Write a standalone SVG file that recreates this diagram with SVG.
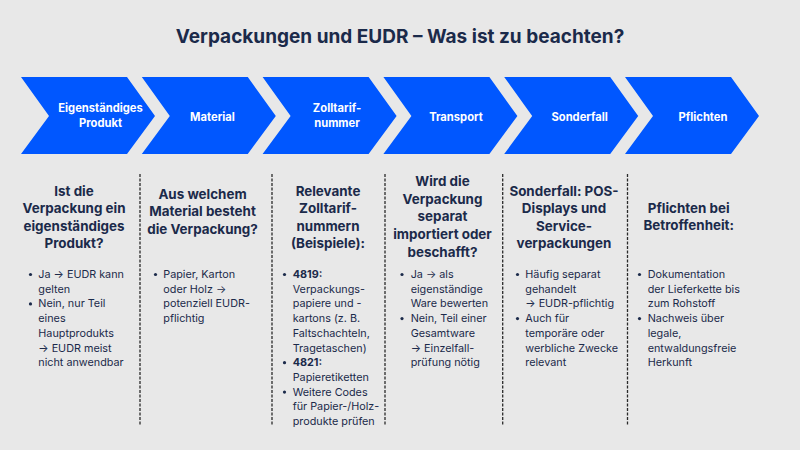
<svg xmlns="http://www.w3.org/2000/svg" width="800" height="450" viewBox="0 0 800 450">
<style>
.bg{fill:#e8e8e8}
.chev{fill:#0057ff}
.cl{font-family:Inter,"Noto Sans",sans-serif;font-weight:700;font-size:11.2px;fill:#ffffff;text-anchor:middle}
.title{font-family:Inter,"Noto Sans",sans-serif;font-weight:700;font-size:19px;fill:#1b2a4a;text-anchor:middle}
.hd{font-family:Inter,"Noto Sans",sans-serif;font-weight:700;font-size:13.4px;fill:#1b2a4a;text-anchor:middle}
.bt{font-family:Inter,"Noto Sans",sans-serif;font-size:10.8px;fill:#1b2a4a}
.bt .b{font-weight:700}
.dot{fill:#1b2a4a}
.div{stroke:#2a2a2a;stroke-width:1.3;stroke-dasharray:3 1.5;fill:none}
</style>
<defs>
<polygon id="chv" points="0,0 106,0 134,39 106,77 0,77 28,39"/>
</defs>
<rect class="bg" x="0" y="0" width="800" height="450"/>
<text class="title" x="400" y="43">Verpackungen und EUDR – Was ist zu beachten?</text>

<g id="step1"><use href="#chv" class="chev" x="21" y="77"/><text class="cl" x="100.5" y="112">Eigenständiges</text><text class="cl" x="100.5" y="127">Produkt</text></g>
<g id="step2"><use href="#chv" class="chev" x="141.8" y="77"/><text class="cl" x="212.5" y="120.5">Material</text></g>
<g id="step3"><use href="#chv" class="chev" x="262.6" y="77"/><text class="cl" x="337" y="112">Zolltarif-</text><text class="cl" x="337" y="127">nummer</text></g>
<g id="step4"><use href="#chv" class="chev" x="383.4" y="77"/><text class="cl" x="456" y="120.5">Transport</text></g>
<g id="step5"><use href="#chv" class="chev" x="504.2" y="77"/><text class="cl" x="579.7" y="120.5">Sonderfall</text></g>
<g id="step6"><use href="#chv" class="chev" x="625" y="77"/><text class="cl" x="703" y="120.5">Pflichten</text></g>

<g id="dividers">
<line class="div" x1="140" y1="174" x2="140" y2="425"/>
<line class="div" x1="272" y1="174" x2="272" y2="425"/>
<line class="div" x1="385" y1="174" x2="385" y2="425"/>
<line class="div" x1="502.7" y1="174" x2="502.7" y2="425"/>
<line class="div" x1="627.5" y1="174" x2="627.5" y2="425"/>
</g>

<g id="col1">
<text class="hd" x="74" y="195.5">Ist die</text>
<text class="hd" x="74" y="213">Verpackung ein</text>
<text class="hd" x="74" y="230.5">eigenständiges</text>
<text class="hd" x="74" y="248">Produkt?</text>
<circle class="dot" cx="30.5" cy="274.5" r="1.6"/>
<circle class="dot" cx="30.5" cy="303.9" r="1.6"/>
<text class="bt" x="38.3" y="278">Ja → EUDR kann</text>
<text class="bt" x="38.3" y="292.7">gelten</text>
<text class="bt" x="38.3" y="307.4">Nein, nur Teil</text>
<text class="bt" x="38.3" y="322.1">eines</text>
<text class="bt" x="38.3" y="336.8">Hauptprodukts</text>
<text class="bt" x="38.3" y="351.5">→ EUDR meist</text>
<text class="bt" x="38.3" y="366.2">nicht anwendbar</text>
</g>

<g id="col2">
<text class="hd" x="202.5" y="198.5">Aus welchem</text>
<text class="hd" x="202.5" y="216.3">Material besteht</text>
<text class="hd" x="202.5" y="234">die Verpackung?</text>
<circle class="dot" cx="155.5" cy="274.5" r="1.6"/>
<text class="bt" x="163.3" y="278">Papier, Karton</text>
<text class="bt" x="163.3" y="292.7">oder Holz →</text>
<text class="bt" x="163.3" y="307.4">potenziell EUDR-</text>
<text class="bt" x="163.3" y="322.1">pflichtig</text>
</g>

<g id="col3">
<text class="hd" x="328" y="195.5">Relevante</text>
<text class="hd" x="328" y="213">Zolltarif-</text>
<text class="hd" x="328" y="230.5">nummern</text>
<text class="hd" x="328" y="248">(Beispiele):</text>
<circle class="dot" cx="284.5" cy="274.5" r="1.6"/>
<circle class="dot" cx="284.5" cy="362.7" r="1.6"/>
<circle class="dot" cx="284.5" cy="392.1" r="1.6"/>
<text class="bt" x="292.7" y="278"><tspan class="b">4819:</tspan></text>
<text class="bt" x="292.7" y="292.7">Verpackungs-</text>
<text class="bt" x="292.7" y="307.4">papiere und -</text>
<text class="bt" x="292.7" y="322.1">kartons (z. B.</text>
<text class="bt" x="292.7" y="336.8">Faltschachteln,</text>
<text class="bt" x="292.7" y="351.5">Tragetaschen)</text>
<text class="bt" x="292.7" y="366.2"><tspan class="b">4821:</tspan></text>
<text class="bt" x="292.7" y="380.9">Papieretiketten</text>
<text class="bt" x="292.7" y="395.6">Weitere Codes</text>
<text class="bt" x="292.7" y="410.3">für Papier-/Holz-</text>
<text class="bt" x="292.7" y="425">produkte prüfen</text>
</g>

<g id="col4">
<text class="hd" x="442.5" y="186">Wird die</text>
<text class="hd" x="442.5" y="203.7">Verpackung</text>
<text class="hd" x="442.5" y="221.4">separat</text>
<text class="hd" x="442.5" y="239.1">importiert oder</text>
<text class="hd" x="442.5" y="256.8">beschafft?</text>
<circle class="dot" cx="402" cy="274.5" r="1.6"/>
<circle class="dot" cx="402" cy="318.6" r="1.6"/>
<text class="bt" x="410.7" y="278">Ja → als</text>
<text class="bt" x="410.7" y="292.7">eigenständige</text>
<text class="bt" x="410.7" y="307.4">Ware bewerten</text>
<text class="bt" x="410.7" y="322.1">Nein, Teil einer</text>
<text class="bt" x="410.7" y="336.8">Gesamtware</text>
<text class="bt" x="410.7" y="351.5">→ Einzelfall-</text>
<text class="bt" x="410.7" y="366.2">prüfung nötig</text>
</g>

<g id="col5">
<text class="hd" x="564" y="195.5">Sonderfall: POS-</text>
<text class="hd" x="564" y="213">Displays und</text>
<text class="hd" x="564" y="230.5">Service-</text>
<text class="hd" x="564" y="248">verpackungen</text>
<circle class="dot" cx="517.5" cy="274.5" r="1.6"/>
<circle class="dot" cx="517.5" cy="318.6" r="1.6"/>
<text class="bt" x="525.3" y="278">Häufig separat</text>
<text class="bt" x="525.3" y="292.7">gehandelt</text>
<text class="bt" x="525.3" y="307.4">→ EUDR-pflichtig</text>
<text class="bt" x="525.3" y="322.1">Auch für</text>
<text class="bt" x="525.3" y="336.8">temporäre oder</text>
<text class="bt" x="525.3" y="351.5">werbliche Zwecke</text>
<text class="bt" x="525.3" y="366.2">relevant</text>
</g>

<g id="col6">
<text class="hd" x="688.7" y="212.5">Pflichten bei</text>
<text class="hd" x="688.7" y="230.2">Betroffenheit:</text>
<circle class="dot" cx="639.5" cy="274.5" r="1.6"/>
<circle class="dot" cx="639.5" cy="318.6" r="1.6"/>
<text class="bt" x="647.7" y="278">Dokumentation</text>
<text class="bt" x="647.7" y="292.7">der Lieferkette bis</text>
<text class="bt" x="647.7" y="307.4">zum Rohstoff</text>
<text class="bt" x="647.7" y="322.1">Nachweis über</text>
<text class="bt" x="647.7" y="336.8">legale,</text>
<text class="bt" x="647.7" y="351.5">entwaldungsfreie</text>
<text class="bt" x="647.7" y="366.2">Herkunft</text>
</g>
</svg>
